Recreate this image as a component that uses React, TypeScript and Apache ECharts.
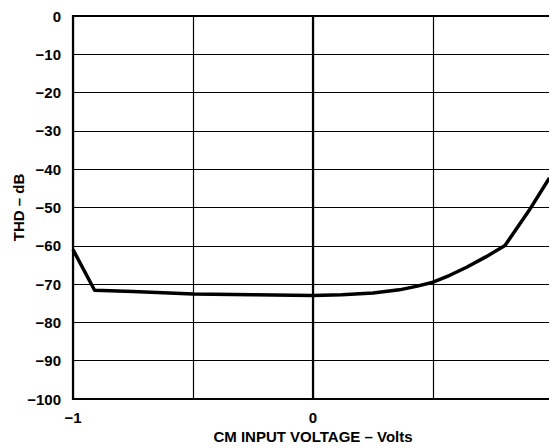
import React, { useEffect, useRef } from "react";
import * as echarts from "echarts";

const xValues = [-1, -0.91, -0.75, -0.5, -0.25, 0, 0.12, 0.25, 0.36, 0.43, 0.5, 0.57, 0.64, 0.72, 0.8, 0.9, 0.985];
const thdValues = [-61, -71.6, -71.9, -72.6, -72.8, -73, -72.8, -72.3, -71.5, -70.6, -69.5, -67.7, -65.6, -62.9, -59.9, -50.8, -42.3];
const xTickLabels: Record<string, string> = { "-1": "\u22121", "0": "0", "1": "1" };

const fmtY = (v: number) => (v < 0 ? "\u2212" + Math.abs(v) : String(v));

export default function App() {
  const ref = useRef<HTMLDivElement>(null);
  useEffect(() => {
    if (!ref.current) return;
    const chart = echarts.init(ref.current, null, { renderer: "svg" });
    const font = { fontFamily: "Liberation Sans", fontWeight: "bold" as const, fontSize: 15, color: "#000" };
    chart.setOption({
      animation: false,
      backgroundColor: "#fff",
      grid: {
        left: 73, top: 16, right: -4, bottom: 49,
        outerBoundsMode: "none",
        containLabel: false,
        show: true, borderColor: "#000", borderWidth: 2.2, backgroundColor: "transparent",
      },
      xAxis: {
        type: "value",
        min: -1,
        max: 1,
        interval: 0.5,
        name: "CM INPUT VOLTAGE \u2013 Volts",
        nameLocation: "middle",
        nameGap: 30,
        nameMoveOverlap: false,
        nameTextStyle: { ...font },
        axisLine: { show: true, lineStyle: { color: "#000", width: 2.2 } },
        axisTick: { show: false },
        axisLabel: { ...font, margin: 11, formatter: (v: number) => xTickLabels[String(v)] ?? "" },
        splitLine: { show: true, lineStyle: { color: "#000", width: 1.2 } },
      },
      yAxis: {
        type: "value",
        min: -100,
        max: 0,
        interval: 10,
        name: "THD \u2013 dB",
        nameLocation: "middle",
        nameGap: 47,
        nameMoveOverlap: false,
        nameTextStyle: { ...font },
        axisLine: { show: true, lineStyle: { color: "#000", width: 2.2 } },
        axisTick: { show: false },
        axisLabel: { ...font, margin: 12, formatter: fmtY },
        splitLine: { show: true, lineStyle: { color: "#000", width: 1.2 } },
      },
      series: [
        {
          type: "line",
          data: xValues.map((x, i) => [x, thdValues[i]]),
          smooth: false,
          showSymbol: false,
          lineStyle: { color: "#000", width: 3.5, join: "round" },
        },
      ],
    });
    return () => chart.dispose();
  }, []);
  return <div ref={ref} style={{ width: 549, height: 448, position: "absolute", left: 0, top: 0 }} />;
}
